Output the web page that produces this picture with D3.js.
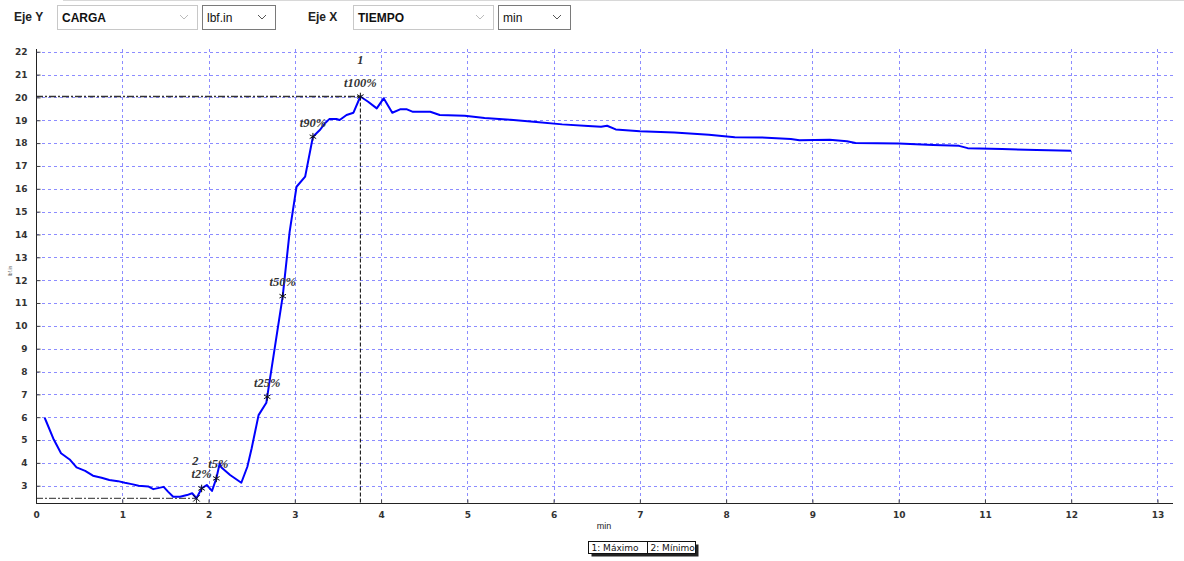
<!doctype html>
<html>
<head>
<meta charset="utf-8">
<style>
    body { margin: 0; background: #fff; }
    svg { display: block; font-family: "Liberation Sans", Arial, sans-serif; }
    .tick text { font-family: "DejaVu Sans", sans-serif; font-weight: bold; font-size: 9px; fill: #333; }
    .grid line { stroke: #8c8cff; stroke-dasharray: 3,3; }
    .tlabel { font-family: "Liberation Serif", "Times New Roman", serif; font-style: italic; font-weight: bold; font-size: 12.5px; fill: #333; }
</style>
<script src="https://d3js.org/d3.v7.min.js"></script>
</head>
<body>
<svg width="1184" height="561"></svg>
<script>
    // tiempo (min) y carga (lbf.in)
    var tiempo = [0.10, 0.12, 0.20, 0.29, 0.39, 0.47, 0.57, 0.66, 0.76, 0.85, 0.95, 1.03, 1.11, 1.19, 1.30, 1.36,
        1.48, 1.53, 1.59, 1.67, 1.75, 1.81, 1.86, 1.92, 1.98, 2.04, 2.09, 2.13, 2.15, 2.25, 2.38, 2.45, 2.50,
        2.58, 2.67, 2.68, 2.86, 2.94, 3.02, 3.12, 3.21, 3.29, 3.35, 3.40, 3.49, 3.52, 3.60, 3.68, 3.76, 3.85,
        3.95, 4.03, 4.13, 4.22, 4.30, 4.37, 4.57, 4.68, 4.97, 5.20, 5.50, 5.80, 6.10, 6.40, 6.55, 6.62, 6.72,
        7.00, 7.40, 7.80, 8.10, 8.40, 8.75, 8.85, 9.20, 9.40, 9.50, 10.00, 10.40, 10.70, 10.80, 11.20, 11.60, 12.00];
    var carga = [5.98, 5.80, 5.07, 4.42, 4.15, 3.80, 3.65, 3.44, 3.35, 3.25, 3.20, 3.13, 3.07, 3.00, 2.97, 2.85,
        2.95, 2.74, 2.52, 2.52, 2.59, 2.67, 2.45, 2.88, 3.03, 2.77, 3.32, 3.98, 3.80, 3.47, 3.13, 3.83, 4.64,
        6.09, 6.63, 6.89, 11.30, 14.11, 16.09, 16.53, 18.28, 18.57, 18.87, 19.05, 19.05, 19.01, 19.23, 19.33, 20.04, 19.81,
        19.52, 19.96, 19.33, 19.48, 19.48, 19.37, 19.37, 19.23, 19.20, 19.10, 19.02, 18.92, 18.82, 18.75, 18.72, 18.76, 18.60,
        18.52, 18.46, 18.37, 18.26, 18.25, 18.18, 18.12, 18.15, 18.08, 18.00, 17.98, 17.92, 17.88, 17.78, 17.74, 17.70, 17.66];

    var marcas = ["t2%", "t5%", "t25%", "t50%", "t90%", "t100%"];
    var marcaT = [1.92, 2.09, 2.68, 2.86, 3.21, 3.76];
    var marcaV = [2.88, 3.32, 6.89, 11.30, 18.28, 20.04];

    var xTicks = d3.range(0, 14);
    var yTicks = d3.range(3, 23);
    var maxT = 3.76, maxV = 20.04, minT = 1.86, minV = 2.45;

    var svg = d3.select("svg");

    var x = d3.scaleLinear().domain([0, 13.18]).range([36, 1173]);
    var y = d3.scaleLinear().domain([2.23, 22.12]).range([503.3, 49]);

    // barra superior
    var bar = svg.append("g");
    bar.append("line").attr("x1", 63).attr("x2", 1184).attr("y1", 0.5).attr("y2", 0.5).attr("stroke", "#d8d8d8");
    function combo(x0, w, txt, dark) {
        bar.append("rect").attr("x", x0 + 0.5).attr("y", 5.5).attr("width", w).attr("height", 24)
           .attr("fill", "#fff").attr("stroke", dark ? "#7a7a7a" : "#c8c8c8");
        bar.append("text").attr("x", x0 + 5).attr("y", 22).attr("font-size", "12px")
           .attr("font-weight", txt == txt.toUpperCase() ? "bold" : "normal").attr("fill", "#111").text(txt);
        bar.append("path").attr("d", "M" + (x0 + w - 17) + ",15 l4,4 l4,-4")
           .attr("fill", "none").attr("stroke", dark ? "#555" : "#bbb");
    }
    bar.append("text").attr("x", 14).attr("y", 21).attr("font-size", "12px").attr("font-weight", "bold").attr("fill", "#222").text("Eje Y");
    combo(57, 140, "CARGA", false);
    combo(202, 73, "lbf.in", true);
    bar.append("text").attr("x", 308).attr("y", 21).attr("font-size", "12px").attr("font-weight", "bold").attr("fill", "#222").text("Eje X");
    combo(353, 140, "TIEMPO", false);
    combo(498, 72, "min", true);

    // rejilla
    svg.append("g").attr("class", "grid").selectAll("line").data(yTicks).enter().append("line")
       .attr("x1", 36).attr("x2", 1173)
       .attr("y1", function(d) { return Math.round(y(d)) + 0.5; })
       .attr("y2", function(d) { return Math.round(y(d)) + 0.5; });
    svg.append("g").attr("class", "grid").selectAll("line").data(xTicks.slice(1)).enter().append("line")
       .attr("y1", 49).attr("y2", 503)
       .attr("x1", function(d) { return Math.round(x(d)) + 0.5; })
       .attr("x2", function(d) { return Math.round(x(d)) + 0.5; });

    // lineas de maximo y minimo
    svg.append("line").attr("x1", 36).attr("x2", x(maxT)).attr("y1", y(maxV)).attr("y2", y(maxV))
       .attr("stroke", "#333").attr("stroke-width", 1.3).attr("stroke-dasharray", "7,2,2,2");
    svg.append("line").attr("x1", x(maxT)).attr("x2", x(maxT)).attr("y1", y(maxV)).attr("y2", 503)
       .attr("stroke", "#000").attr("stroke-dasharray", "4,2");
    svg.append("line").attr("x1", 36).attr("x2", x(minT)).attr("y1", y(minV)).attr("y2", y(minV))
       .attr("stroke", "#555").attr("stroke-width", 1.3).attr("stroke-dasharray", "7,2,2,2");
    svg.append("line").attr("x1", x(minT)).attr("x2", x(minT)).attr("y1", y(minV)).attr("y2", 503)
       .attr("stroke", "#333");

    // ejes
    var gx = svg.append("g").attr("transform", "translate(0,503.5)");
    gx.call(d3.axisBottom(x).tickValues(d3.range(0, 13.18, 1 / 6)).tickSize(-3).tickFormat(""));
    gx.call(d3.axisBottom(x).tickValues(xTicks).tickSize(-4).tickPadding(8).tickFormat(d3.format("d")));
    gx.select(".domain").attr("stroke", "#222").attr("d", "M36,0H1173");
    gx.selectAll(".tick line").attr("stroke", "#444");

    var gy = svg.append("g").attr("transform", "translate(36.5,0)");
    gy.call(d3.axisLeft(y).tickValues(d3.range(2.3, 22.12, 0.1)).tickSize(-2).tickFormat(""));
    gy.call(d3.axisLeft(y).tickValues(yTicks).tickSize(-4).tickPadding(9).tickFormat(d3.format("d")));
    gy.select(".domain").attr("stroke", "#222").attr("d", "M0,49V503.3");
    gy.selectAll(".tick line").attr("stroke", "#444");

    svg.append("text").attr("transform", "translate(12,271) rotate(-90)").attr("text-anchor", "middle")
       .attr("font-size", "5px").attr("fill", "#666").text("lbf.in");
    svg.append("text").attr("x", 604).attr("y", 529).attr("text-anchor", "middle")
       .attr("font-size", "9px").attr("fill", "#222").text("min");

    // curva
    var line = d3.line().x(function(d, i) { return x(tiempo[i]); }).y(function(d) { return y(d); });
    svg.append("path").datum(carga).attr("d", line)
       .attr("fill", "none").attr("stroke", "#0000ff").attr("stroke-width", 2).attr("stroke-linejoin", "round");

    // marcas
    var ast = d3.symbol().type(d3.symbolAsterisk).size(40);
    var mk = svg.append("g").selectAll("g").data(marcas).enter().append("g")
       .attr("transform", function(d, i) { return "translate(" + x(marcaT[i]) + "," + y(marcaV[i]) + ")"; });
    mk.append("path").attr("d", ast).attr("fill", "none").attr("stroke", "#111");
    mk.append("text").attr("class", "tlabel").attr("text-anchor", "middle").attr("y", -10)
       .attr("dx", function(d) { return d == "t5%" ? 2 : 0; }).text(function(d) { return d; });

    svg.append("path").attr("d", d3.symbol().type(d3.symbolTimes).size(30))
       .attr("transform", "translate(" + x(minT) + "," + y(minV) + ")").attr("fill", "none").attr("stroke", "#111");
    svg.append("text").attr("class", "tlabel").attr("text-anchor", "middle")
       .attr("x", x(maxT)).attr("y", y(maxV) - 33).text("1");
    svg.append("text").attr("class", "tlabel").attr("text-anchor", "middle")
       .attr("x", x(minT) - 1).attr("y", y(minV) - 33).text("2");

    // leyenda
    var lg = svg.append("g").attr("transform", "translate(588.5,541.5)");
    lg.append("rect").attr("x", 3).attr("y", 3).attr("width", 107).attr("height", 12).attr("fill", "#222");
    lg.append("rect").attr("width", 107).attr("height", 12).attr("fill", "#fff").attr("stroke", "#111");
    lg.append("line").attr("x1", 59).attr("x2", 59).attr("y1", 0).attr("y2", 12).attr("stroke", "#111");
    lg.append("text").attr("x", 3).attr("y", 9.5).attr("font-size", "9px").attr("font-family", "DejaVu Sans").attr("fill", "#111").text("1: Máximo");
    lg.append("text").attr("x", 62).attr("y", 9.5).attr("font-size", "9px").attr("font-family", "DejaVu Sans").attr("fill", "#111").text("2: Mínimo");
</script>
</body>
</html>
